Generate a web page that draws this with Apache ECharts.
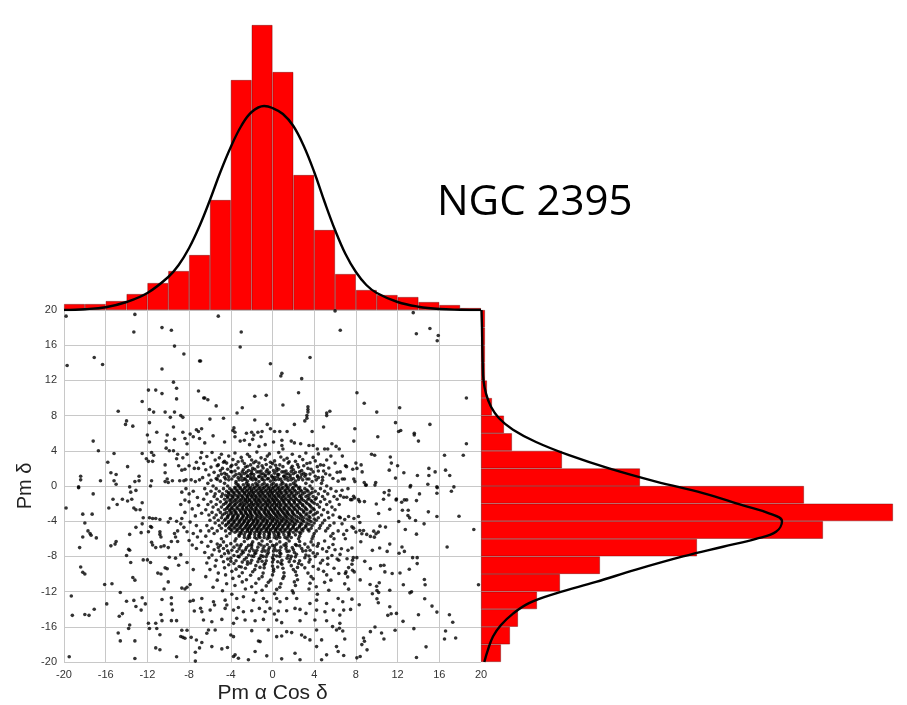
<!DOCTYPE html>
<html><head><meta charset="utf-8">
<script src="https://cdn.jsdelivr.net/npm/echarts@6/dist/echarts.min.js"></script>
<style>html,body{margin:0;padding:0;background:#fff}#c{width:907px;height:705px}</style>
</head><body><div id="c"></div>
<script>
// ---- tick labels ----
const tickValues = [-20,-16,-12,-8,-4,0,4,8,12,16,20];
// ---- histogram bins (2 units wide) ----
const binStartsX = [-20,-18,-16,-14,-12,-10,-8,-6,-4,-2,0,2,4,6,8,10,12,14,16,18];
const topCounts = [6,6,9,16,27,39,55,110,230,285,238,135,80,36,20,15,13,8,5,2];
const binStartsY = [-20,-18,-16,-14,-12,-10,-8,-6,-4,-2,0,2,4,6,8,10,12,14,16,18];
const rightCounts = [20,29,37,56,79,119,216,342,412,323,159,81,31,23,11,6,4,4,4,4];
// ---- fitted curves ----
const topCurveX = [-20,-18,-16,-14,-12,-10,-9,-8,-7,-6,-5,-4,-3,-2,-0.8,0,1,2,3,4,5,6,7,8,9,10,12,14,16,18,20];
const topCurveY = [0,0.8,2.8,8,17,33,45,62,84,110,138,163,184,198,204,202,196,184,164,138,108,80,56,38,25,17,8,3.3,1,0.3,0];
const rightCurveY = [20,18,16,14,12,10.5,9,7.7,6.4,5,3.5,2,0.5,-0.8,-2.2,-3.1,-4,-5.2,-6,-6.9,-8,-9.5,-10.9,-12.2,-13.3,-14.5,-15.8,-17.1,-18.6,-20];
const rightCurveV = [0.5,1.0,1.3,1.7,2.5,5,10,18,32,55,88,128,175,222,262,288,301,295,275,242,202,155,115,75,48,32,20,12,7,3.3];
// ---- scatter points ----
const ptsUL = [[-19.8,19.3],[-13.2,19.5],[-13.3,17.5],[-10.6,18.0],[-9.7,17.7],[-9.4,15.9],[-8.5,15.0],[-7.0,14.2],[-17.1,14.6],[-16.3,13.8],[-19.7,13.7],[-10.6,13.3],[-9.5,11.8],[-9.2,11.1],[-11.9,10.9],[-11.2,10.9],[-10.6,10.5],[-9.2,9.9],[-7.1,10.8],[-6.6,10.0],[-12.5,9.6],[-14.8,8.5],[-11.8,8.7],[-11.4,8.4],[-10.3,8.4],[-9.4,8.4],[-8.8,8.0],[-9.8,7.8],[-8.6,7.8],[-14.0,7.4],[-14.1,7.0],[-13.4,6.8],[-11.8,7.2],[-12.0,5.8],[-11.1,6.1],[-10.1,5.8],[-9.5,6.7],[-8.6,6.1],[-7.9,5.9],[-7.3,6.4],[-7.1,6.2],[-11.8,5.0],[-10.2,5.1],[-9.4,5.3],[-8.4,5.4],[-8.2,4.8],[-7.6,5.6],[-7.0,5.4],[-17.2,5.1],[-16.7,4.0],[-15.2,3.7],[-12.5,3.7],[-11.6,3.8],[-11.4,3.5],[-10.2,4.3],[-9.9,4.0],[-9.5,4.0],[-9.1,3.6],[-8.2,3.6],[-8.6,3.2],[-6.8,3.8],[-6.9,3.2],[-12.1,3.1],[-11.9,2.8],[-11.5,2.8],[-15.8,2.7],[-13.9,2.2],[-15.5,1.5],[-15.0,1.3],[-10.3,2.4],[-9.2,3.1],[-9.0,2.3],[-8.7,1.8],[-8.0,2.3],[-8.4,1.9],[-7.5,2.0],[-7.1,2.0],[-7.3,2.7],[-10.3,1.5],[-18.4,1.1],[-18.4,0.7],[-16.5,0.6],[-15.2,0.6],[-15.0,0.2],[-12.8,1.1],[-13.2,0.5],[-12.8,0.6],[-13.7,-0.1],[-11.6,0.6],[-11.7,0.0],[-10.1,0.8],[-10.0,0.4],[-10.3,0.5],[-9.6,0.6],[-8.9,0.6],[-8.5,0.6],[-8.3,0.7],[-7.8,0.7],[-7.4,0.5],[-7.0,0.7],[-18.6,-0.2]];
const ptsUM = [[-5.2,19.3],[-3.0,17.5],[-3.1,15.8],[-6.9,14.2],[-0.2,13.9],[3.6,14.6],[0.9,12.8],[0.8,12.5],[2.8,12.2],[-6.5,10.0],[-6.2,9.8],[-5.4,9.1],[-1.7,10.2],[-0.6,10.3],[2.5,10.6],[1.0,9.2],[-2.9,8.9],[-3.4,8.3],[3.4,9.0],[3.4,8.7],[3.4,8.4],[3.3,8.0],[3.3,7.7],[3.1,7.4],[5.2,8.3],[5.2,8.0],[5.5,8.5],[-6.0,7.6],[-4.7,7.7],[-1.7,7.5],[-0.5,7.0],[-3.7,6.6],[-3.8,6.3],[-3.6,6.1],[-6.8,6.5],[-5.7,5.7],[-3.6,5.6],[-2.5,6.0],[-2.0,6.1],[-1.8,5.8],[-1.4,6.1],[-1.0,6.2],[-1.1,5.6],[-0.2,6.5],[0.2,6.2],[0.7,6.2],[1.4,6.2],[2.1,7.0],[3.8,6.2],[4.9,6.7],[-6.5,4.9],[-4.6,5.0],[-3.1,5.1],[-2.7,5.2],[-2.2,4.7],[-1.9,5.3],[-1.3,4.5],[-0.7,4.7],[0.1,5.0],[0.9,5.2],[0.9,4.6],[1.0,4.2],[1.8,5.1],[2.1,4.9],[2.7,4.8],[3.5,4.6],[3.9,4.6],[4.3,4.2],[5.0,4.2],[5.3,4.2],[5.7,4.8],[6.1,4.5],[6.0,19.9]];
const ptsUR = [[6.5,17.7],[13.5,19.7],[13.8,17.3],[15.1,17.9],[15.9,17.1],[15.8,16.5],[8.1,10.6],[8.8,9.4],[10.0,8.4],[12.2,8.9],[18.6,10.0],[11.8,7.2],[12.1,6.2],[12.3,6.3],[13.6,6.0],[13.6,5.8],[14.0,5.1],[15.1,7.0],[18.6,4.8],[7.9,6.5],[7.8,5.1],[10.1,5.6],[6.4,4.2],[6.7,3.4],[9.5,3.6],[9.8,3.5],[11.3,3.3],[11.4,2.6],[12.0,2.3],[11.2,1.8],[12.6,1.5],[11.8,0.9],[13.2,-0.1],[13.9,1.2],[15.0,2.0],[15.0,1.2],[15.6,1.6],[14.9,0.2],[15.8,-0.2],[16.5,3.5],[18.3,3.5],[16.6,1.8],[17.0,1.2],[17.4,-0.1],[8.0,2.6],[8.5,2.4],[8.1,2.0],[8.6,1.6],[7.7,1.9],[7.0,2.3],[7.1,2.2],[6.5,1.6],[6.7,0.8],[6.9,0.8],[7.8,0.8],[7.9,0.5],[8.8,0.4],[9.0,0.1],[9.9,0.4]];
const ptsLL = [[-18.6,-0.1],[-17.2,-0.9],[-19.8,-2.5],[-18.2,-3.2],[-17.3,-3.2],[-15.7,-2.5],[-15.3,-1.5],[-14.9,-2.1],[-14.4,-1.5],[-13.9,-1.7],[-13.5,-1.5],[-13.1,-0.5],[-13.6,-0.7],[-13.3,-2.5],[-13.1,-2.7],[-12.7,-2.7],[-12.5,-1.9],[-12.4,-3.6],[-18.0,-4.2],[-17.7,-5.1],[-17.5,-5.4],[-17.4,-5.6],[-18.2,-5.8],[-16.9,-5.9],[-18.5,-7.0],[-15.5,-6.8],[-15.1,-6.6],[-15.0,-6.3],[-13.8,-7.2],[-13.7,-7.3],[-13.7,-5.5],[-13.1,-4.7],[-12.6,-5.3],[-12.5,-4.3],[-11.8,-3.6],[-11.5,-3.7],[-11.2,-3.7],[-10.8,-3.8],[-11.7,-4.6],[-11.6,-4.7],[-11.9,-5.2],[-10.8,-5.2],[-10.7,-5.8],[-10.8,-5.5],[-11.6,-6.4],[-11.5,-6.7],[-11.2,-7.0],[-10.7,-6.9],[-10.4,-6.8],[-10.0,-7.0],[-9.7,-6.3],[-9.3,-5.8],[-9.1,-6.3],[-9.4,-5.4],[-9.1,-5.1],[-9.8,-3.7],[-10.0,-4.1],[-9.2,-4.0],[-8.7,-0.7],[-8.3,-0.3],[-8.0,-0.9],[-7.6,-0.6],[-7.2,-1.3],[-8.4,-1.6],[-8.0,-1.8],[-8.8,-2.1],[-7.7,-2.6],[-7.1,-2.2],[-8.4,-3.0],[-7.4,-3.4],[-6.8,-3.1],[-8.7,-3.7],[-7.9,-4.1],[-7.3,-4.5],[-6.9,-5.1],[-7.6,-5.4],[-7.2,-5.8],[-8.0,-6.2],[-6.8,-6.4],[-7.7,-6.7],[-7.3,-7.1],[-8.5,-4.7],[-8.2,-5.2],[-8.8,-4.3],[-14.0,-7.9],[-13.6,-8.7],[-12.4,-8.4],[-12.0,-8.4],[-11.7,-8.7],[-9.9,-8.1],[-9.3,-8.2],[-8.8,-7.8],[-9.0,-9.0],[-8.2,-8.7],[-18.4,-9.2],[-18.2,-9.8],[-18.0,-10.0],[-13.4,-10.4],[-13.2,-10.7],[-16.1,-11.2],[-15.4,-11.1],[-11.0,-9.9],[-10.7,-10.0],[-10.3,-9.3],[-10.1,-9.4],[-10.0,-10.9],[-10.4,-11.7],[-8.7,-11.6],[-8.4,-11.7],[-8.2,-11.5],[-7.9,-11.2],[-7.6,-9.5],[-19.3,-12.5],[-15.9,-13.4],[-14.6,-12.1],[-14.0,-13.1],[-13.3,-13.0],[-13.1,-13.7],[-12.6,-14.1],[-12.5,-12.7],[-12.2,-13.4],[-10.6,-12.9],[-9.7,-12.7],[-9.7,-13.4],[-9.6,-14.1],[-10.7,-14.6],[-11.2,-15.6],[-10.6,-15.3],[-9.7,-15.3],[-9.2,-15.3],[-7.9,-13.1],[-7.6,-13.0],[-7.5,-14.2],[-6.9,-13.9],[-19.2,-14.7],[-18.0,-14.6],[-17.6,-14.7],[-17.1,-14.0],[-14.7,-14.8],[-14.4,-14.5],[-13.7,-15.8],[-13.8,-16.2],[-14.8,-16.7],[-14.6,-17.6],[-13.2,-17.6],[-11.9,-15.6],[-11.8,-16.2],[-11.1,-16.2],[-10.8,-16.9],[-8.7,-16.4],[-8.2,-16.4],[-8.8,-17.1],[-8.6,-17.2],[-8.4,-17.3],[-7.8,-17.2],[-7.3,-17.5],[-11.2,-18.4],[-10.8,-18.6],[-9.2,-19.4],[-7.4,-19.9],[-7.4,-18.9],[-7.0,-18.4],[-13.2,-19.6],[-19.5,-19.4]];
const ptsLM = [[-6.78,-12.78],[-5.66,-13.16],[-5.56,-13.53],[-4.54,-12.97],[-4.38,-13.53],[-3.43,-12.78],[-2.79,-12.59],[-1.83,-12.97],[-0.87,-12.78],[-0.55,-13.16],[0.4,-12.78],[0.72,-13.16],[1.36,-12.78],[2.32,-12.78],[3.59,-13.35],[4.23,-12.97],[5.19,-13.35],[6.3,-12.78],[-6.78,-14.29],[-5.98,-14.1],[-4.54,-13.91],[-3.74,-14.1],[-3.27,-13.8],[-2.79,-14.29],[-1.99,-14.18],[-1.26,-13.91],[-0.71,-14.29],[-0.24,-13.91],[0.18,-14.55],[0.56,-14.21],[1.36,-14.18],[2.16,-13.91],[2.64,-14.02],[3.21,-14.48],[4.23,-14.1],[5.03,-14.29],[5.83,-14.1],[6.46,-14.67],[-6.62,-15.23],[-5.82,-15.42],[-4.86,-15.16],[-3.74,-15.61],[-3.43,-15.04],[-2.63,-15.23],[-1.67,-15.31],[-0.87,-15.16],[0.4,-15.23],[0.88,-15.53],[2.64,-15.31],[4.07,-15.23],[5.19,-15.31],[6.46,-15.61],[-6.3,-16.74],[-5.5,-16.36],[-6.14,-16.36],[-4.0,-16.93],[-3.74,-17.12],[-1.99,-16.44],[-1.35,-17.61],[-1.19,-17.68],[-0.4,-16.36],[0.4,-17.12],[0.88,-17.04],[1.36,-16.55],[1.84,-16.66],[2.79,-16.93],[3.11,-17.19],[3.59,-17.49],[4.23,-16.36],[4.71,-17.49],[5.76,-15.98],[6.14,-16.36],[-6.78,-17.79],[-5.82,-18.25],[-4.86,-18.51],[-4.32,-18.36],[-3.74,-19.38],[-3.59,-19.19],[-3.27,-19.57],[-2.31,-19.75],[-1.67,-18.81],[-0.55,-19.3],[0.88,-19.64],[2.16,-19.0],[2.64,-19.75],[4.23,-18.25],[4.71,-19.75],[5.19,-19.19],[6.14,-18.25],[6.3,-18.81]];
const ptsLR = [[7.24,-0.3],[6.67,-0.49],[6.51,-1.09],[6.83,-1.28],[7.12,-1.28],[7.62,-1.55],[7.78,-1.17],[7.87,-1.36],[7.49,-1.55],[8.25,-1.55],[8.35,-1.77],[8.82,-1.77],[8.92,0.1],[9.83,0.1],[11.19,-0.53],[10.72,-0.75],[10.65,-1.51],[11.16,-1.02],[9.96,-2.04],[11.86,-1.58],[11.89,-1.47],[12.65,-1.58],[12.87,-1.58],[12.39,-1.85],[13.25,0.05],[13.81,-1.66],[14.1,-0.9],[15.77,-0.08],[15.77,-0.83],[17.16,-0.6],[11.25,-2.64],[10.18,-3.13],[12.46,-2.75],[13.02,-2.75],[12.99,-3.36],[13.15,-3.62],[14.95,-2.94],[15.77,-3.47],[17.89,-3.43],[19.31,-4.94],[12.11,-4.03],[13.72,-3.92],[14.54,-4.3],[12.74,-4.94],[13.81,-5.47],[10.84,-4.67],[10.31,-4.56],[9.71,-5.13],[10.15,-5.24],[9.93,-5.43],[9.77,-5.81],[9.04,-5.5],[9.39,-5.73],[8.73,-5.05],[8.38,-5.05],[8.57,-5.43],[8.0,-5.24],[7.78,-4.79],[7.62,-4.64],[7.12,-5.05],[6.83,-5.5],[6.99,-5.99],[6.67,-4.3],[6.42,-3.54],[6.93,-3.81],[7.3,-3.47],[7.81,-3.69],[8.25,-3.47],[8.38,-4.15],[8.47,-6.33],[9.58,-7.31],[10.28,-7.05],[11.0,-7.43],[11.25,-6.6],[12.14,-7.65],[12.42,-6.94],[12.65,-7.43],[16.75,-6.94],[7.62,-7.05],[7.24,-7.31],[6.61,-7.13],[6.48,-7.77],[7.15,-8.26],[7.75,-8.14],[7.68,-8.44],[8.09,-8.14],[8.85,-8.56],[9.39,-9.39],[10.37,-9.05],[10.69,-9.01],[10.78,-9.76],[11.48,-9.95],[12.23,-9.88],[13.12,-9.46],[13.44,-8.14],[13.88,-8.14],[13.88,-8.82],[14.57,-10.63],[14.64,-11.23],[12.55,-11.23],[11.25,-11.84],[10.24,-11.0],[9.99,-11.39],[9.36,-11.2],[9.58,-12.25],[10.02,-11.88],[10.18,-12.1],[8.41,-10.67],[7.3,-11.72],[6.93,-11.12],[7.21,-10.33],[7.05,-9.76],[6.99,-9.95],[7.3,-9.27],[7.84,-9.76],[7.68,-9.58],[7.62,-8.9],[6.36,-8.44],[6.36,-9.95],[13.18,-12.14],[13.34,-12.03],[19.76,-11.23],[14.6,-12.82],[15.3,-13.65],[10.02,-12.82],[10.15,-13.27],[8.32,-13.5],[11.25,-13.72],[11.38,-14.51],[11.06,-14.7],[11.89,-14.48],[12.52,-15.38],[14.0,-14.63],[15.77,-14.33],[16.97,-14.63],[17.29,-15.49],[7.62,-12.86],[6.74,-13.16],[6.83,-14.1],[7.49,-14.02],[9.83,-16.02],[9.39,-16.55],[10.46,-16.7],[10.69,-17.38],[8.73,-17.27],[8.82,-17.64],[8.57,-18.02],[9.07,-18.62],[6.93,-17.38],[6.74,-16.47],[6.42,-16.17],[11.76,-16.4],[13.56,-16.21],[16.6,-16.47],[16.5,-17.38],[17.57,-17.27],[14.73,-18.28],[6.83,-19.26],[8.09,-19.53],[8.41,-19.38],[13.81,-19.49]];
const haloUpper = [[-5.8,3.8],[-4.9,3.6],[-3.6,3.75],[-2.4,3.6],[-1.5,3.85],[-0.3,3.65],[0.6,3.8],[1.9,3.6],[3.2,3.75],[4.4,3.65],[-6.3,3.35],[-5.1,3.2],[-4.2,3.4],[-3.0,3.25],[-2.2,3.35],[-1.1,3.2],[-0.5,3.4],[0.8,3.3],[1.4,3.15],[2.6,3.35],[3.9,3.25],[5.6,3.4],[-5.5,2.95],[-4.6,2.8],[-3.8,3.0],[-2.9,2.85],[-2.0,2.95],[-1.6,2.8],[-0.7,3.0],[0.2,2.85],[1.1,2.95],[2.2,2.8],[2.9,3.0],[4.1,2.85],[5.2,2.95],[-6.6,2.55],[-5.2,2.4],[-4.4,2.6],[-3.5,2.45],[-2.7,2.55],[-2.1,2.4],[-1.3,2.6],[-0.6,2.45],[0.0,2.55],[0.7,2.4],[1.5,2.6],[2.4,2.45],[3.3,2.55],[4.6,2.4],[6.0,2.6],[-5.9,2.15],[-4.8,2.0],[-4.0,2.2],[-3.3,2.05],[-2.6,2.15],[-1.9,2.0],[-1.4,2.2],[-0.9,2.05],[-0.2,2.15],[0.4,2.0],[1.0,2.2],[1.8,2.05],[2.5,2.15],[3.4,2.0],[4.3,2.2],[5.4,2.05],[-6.4,1.85],[-5.0,1.75],[-4.3,1.9],[-3.6,1.7],[-2.8,1.85],[-2.3,1.75],[-1.7,1.9],[-1.1,1.7],[-0.5,1.85],[0.1,1.75],[0.6,1.9],[1.3,1.7],[2.0,1.85],[2.8,1.75],[3.7,1.9],[4.9,1.7],[-5.6,1.55],[-4.6,1.45],[-3.9,1.6],[-3.2,1.4],[-2.5,1.55],[-2.0,1.45],[-1.5,1.6],[-0.9,1.4],[-0.3,1.55],[0.2,1.45],[0.9,1.6],[1.5,1.4],[2.2,1.55],[3.0,1.45],[3.9,1.6],[5.1,1.4],[6.2,1.55],[-6.1,1.25],[-5.2,1.15],[-4.4,1.3],[-3.7,1.1],[-3.0,1.25],[-2.4,1.15],[-1.8,1.3],[-1.3,1.1],[-0.7,1.25],[-0.1,1.15],[0.5,1.3],[1.1,1.1],[1.7,1.25],[2.4,1.15],[3.2,1.3],[4.1,1.1],[5.5,1.25],[-6.7,0.95],[-5.4,0.85],[-4.6,1.0],[-3.9,0.8],[-3.3,0.95],[-2.7,0.85],[-2.1,1.0],[-1.6,0.8],[-1.0,0.95],[-0.4,0.85],[0.2,1.0],[0.8,0.8],[1.4,0.95],[2.0,0.85],[2.7,1.0],[3.5,0.8],[4.4,0.95],[5.8,0.85],[-5.9,0.65],[-5.0,0.55],[-4.2,0.7],[-3.5,0.5],[-2.9,0.65],[-2.4,0.55],[-1.9,0.7],[-1.3,0.5],[-0.8,0.65],[-0.2,0.55],[0.3,0.7],[0.9,0.5],[1.5,0.65],[2.2,0.55],[2.9,0.7],[3.8,0.5],[4.8,0.65],[6.3,0.55]];
const haloUpper2 = [[-4.7,2.7],[-3.3,2.75],[-1.8,2.65],[-0.2,2.7],[1.6,2.75],[3.6,2.65],[-5.3,2.3],[-3.9,2.35],[-2.4,2.25],[-1.0,2.3],[0.3,2.35],[1.9,2.25],[3.0,2.3],[4.9,2.35],[-4.0,1.65],[-2.9,1.6],[-2.0,1.7],[-1.3,1.6],[-0.6,1.65],[0.4,1.7],[1.1,1.6],[1.8,1.65],[2.6,1.6],[4.4,1.7],[-4.9,1.35],[-3.5,1.3],[-2.7,1.4],[-2.1,1.3],[-1.1,1.35],[-0.4,1.4],[0.6,1.3],[1.3,1.35],[2.0,1.4],[2.8,1.3],[3.6,1.35],[-4.2,1.05],[-3.0,1.0],[-2.4,1.1],[-1.8,1.0],[-1.3,1.05],[-0.7,1.1],[0.0,1.0],[0.5,1.05],[1.1,1.1],[1.7,1.0],[2.4,1.05],[3.1,1.1],[4.8,1.0],[-5.3,0.75],[-4.5,0.8],[-3.2,0.7],[-2.6,0.75],[-2.1,0.8],[-1.6,0.7],[-1.0,0.75],[-0.5,0.8],[0.1,0.7],[0.6,0.75],[1.2,0.8],[1.8,0.7],[2.5,0.75],[3.3,0.8],[4.2,0.7]];
const coreRowY = [0.3,0.0,-0.3,-0.6,-0.9,-1.2,-1.5,-1.8,-2.1,-2.4,-2.7,-3.0,-3.3,-3.6,-3.9,-4.2,-4.5,-4.8,-5.1,-5.4,-5.7,-6.0];
const coreRowX = [
[-6.2,-4.6,-3.5,-2.5,-1.6,-0.8,0.1,1.0,2.0,3.2,4.7],
[-5.7,-4.3,-3.3,-2.4,-1.5,-0.6,0.3,1.3,2.3,3.6,5.2],
[-6.5,-5.4,-4.7,-4.1,-3.6,-3.1,-2.7,-2.2,-1.8,-1.3,-0.9,-0.4,0.0,0.5,0.9,1.4,1.9,2.5,3.1,3.8,4.6,5.6],
[-5.9,-5.1,-4.4,-3.9,-3.4,-2.9,-2.5,-2.0,-1.6,-1.1,-0.7,-0.2,0.2,0.7,1.2,1.7,2.2,2.8,3.4,4.1,5.0,6.1],
[-6.3,-5.5,-4.8,-4.2,-3.7,-3.2,-2.7,-2.3,-1.9,-1.4,-1.0,-0.5,-0.1,0.4,0.8,1.3,1.8,2.3,2.9,3.6,4.4,5.3],
[-5.6,-4.9,-4.3,-3.8,-3.3,-2.9,-2.4,-2.0,-1.6,-1.2,-0.7,-0.3,0.2,0.6,1.0,1.5,2.0,2.6,3.2,3.9,4.8,5.9],
[-6.6,-5.3,-4.6,-4.0,-3.5,-3.0,-2.6,-2.2,-1.7,-1.3,-0.9,-0.4,0.0,0.4,0.9,1.3,1.8,2.3,2.8,3.4,4.1,5.0,6.2],
[-5.9,-5.0,-4.4,-3.8,-3.3,-2.8,-2.4,-2.0,-1.5,-1.1,-0.6,-0.2,0.2,0.7,1.1,1.6,2.1,2.6,3.2,3.8,4.6,5.5],
[-6.2,-5.4,-4.7,-4.1,-3.6,-3.1,-2.7,-2.2,-1.8,-1.4,-0.9,-0.5,0.0,0.4,0.8,1.3,1.8,2.4,2.9,3.5,4.3,5.2,6.4],
[-5.7,-4.9,-4.3,-3.9,-3.4,-2.9,-2.5,-2.1,-1.6,-1.2,-0.7,-0.3,0.2,0.6,1.1,1.5,2.0,2.5,3.1,3.7,4.5,5.7],
[-6.4,-5.2,-4.6,-4.1,-3.7,-3.2,-2.8,-2.3,-1.9,-1.5,-1.0,-0.6,-0.1,0.3,0.8,1.2,1.7,2.2,2.8,3.3,4.0,4.9,6.0],
[-5.8,-5.0,-4.4,-3.9,-3.5,-3.0,-2.6,-2.1,-1.7,-1.3,-0.8,-0.4,0.1,0.5,1.0,1.4,1.9,2.4,3.0,3.6,4.3,5.3],
[-6.1,-5.4,-4.8,-4.2,-3.7,-3.3,-2.8,-2.4,-2.0,-1.5,-1.1,-0.6,-0.2,0.3,0.7,1.2,1.6,2.1,2.7,3.2,3.9,4.7,5.8],
[-5.6,-4.9,-4.3,-3.8,-3.4,-2.9,-2.5,-2.1,-1.6,-1.2,-0.8,-0.3,0.1,0.5,1.0,1.4,1.9,2.5,3.0,3.6,4.4,5.4,6.5],
[-6.0,-5.2,-4.6,-4.0,-3.6,-3.1,-2.7,-2.2,-1.8,-1.4,-0.9,-0.5,0.0,0.4,0.9,1.3,1.8,2.3,2.9,3.5,4.2,5.0],
[-5.5,-4.8,-4.2,-3.7,-3.2,-2.8,-2.4,-1.9,-1.5,-1.1,-0.6,-0.2,0.3,0.7,1.2,1.6,2.1,2.7,3.3,4.0,4.8,5.9],
[-6.3,-5.1,-4.5,-3.9,-3.4,-3.0,-2.5,-2.1,-1.7,-1.2,-0.8,-0.3,0.1,0.6,1.0,1.5,2.0,2.6,3.2,3.8,4.6,5.5],
[-5.8,-4.9,-4.2,-3.7,-3.2,-2.7,-2.3,-1.8,-1.4,-0.9,-0.5,0.0,0.4,0.9,1.4,1.9,2.4,3.0,3.7,4.5,5.3],
[-6.1,-5.3,-4.5,-3.9,-3.4,-2.9,-2.4,-2.0,-1.5,-1.1,-0.6,-0.2,0.3,0.8,1.2,1.7,2.3,2.9,3.5,4.2,5.1,6.3],
[-5.6,-4.1,-3.0,-2.1,-1.2,-0.3,0.6,1.6,2.7,4.0,5.8],
[-6.4,-4.4,-3.2,-2.3,-1.3,-0.4,0.5,1.5,2.6,3.9,5.6],
[-4.9,-3.5,-2.4,-1.5,-0.5,0.4,1.4,2.5,3.8,5.9]
];
const coreMidY = [0.15,-0.15,-0.45,-0.75,-1.05,-1.35,-1.65,-1.95,-2.25,-2.55,-2.85,-3.15,-3.45,-3.75,-4.05,-4.35,-4.65,-4.95,-5.25,-5.55,-5.85];
const coreMidX = [
[-3.3,-2.8,-2.3,-1.9,-1.4,-1.0,-0.5,-0.1,0.4,0.8,1.3,1.7,2.2],
[-3.6,-3.1,-2.6,-2.1,-1.7,-1.2,-0.8,-0.3,0.1,0.6,1.0,1.5,2.0,2.6],
[-3.9,-3.4,-2.9,-2.4,-2.0,-1.5,-1.1,-0.6,-0.2,0.3,0.7,1.2,1.6,2.1,2.7,3.3],
[-4.2,-3.7,-3.2,-2.7,-2.2,-1.8,-1.3,-0.9,-0.4,0.0,0.5,0.9,1.4,1.9,2.5,3.1,3.8],
[-4.5,-4.0,-3.5,-3.0,-2.5,-2.1,-1.7,-1.2,-0.8,-0.3,0.1,0.6,1.1,1.6,2.1,2.7,3.4],
[-4.3,-3.8,-3.3,-2.8,-2.4,-1.9,-1.5,-1.0,-0.6,-0.1,0.3,0.8,1.2,1.7,2.2,2.8,3.5,4.2],
[-4.1,-3.6,-3.1,-2.6,-2.2,-1.7,-1.3,-0.8,-0.4,0.1,0.5,1.0,1.5,2.0,2.5,3.0,3.7],
[-4.5,-4.0,-3.5,-3.0,-2.5,-2.0,-1.6,-1.2,-0.7,-0.3,0.2,0.6,1.1,1.6,2.1,2.7,3.3,4.0],
[-4.2,-3.7,-3.2,-2.8,-2.3,-1.9,-1.4,-1.0,-0.5,-0.1,0.4,0.8,1.3,1.8,2.3,2.9,3.6],
[-4.4,-3.9,-3.4,-2.9,-2.5,-2.0,-1.6,-1.1,-0.7,-0.2,0.2,0.7,1.1,1.6,2.1,2.6,3.2,3.9],
[-4.1,-3.6,-3.1,-2.6,-2.2,-1.7,-1.3,-0.8,-0.4,0.0,0.5,0.9,1.4,1.9,2.4,3.0,3.7],
[-4.6,-4.0,-3.5,-3.0,-2.5,-2.1,-1.6,-1.2,-0.7,-0.3,0.2,0.6,1.1,1.5,2.0,2.6,3.3,4.1],
[-4.3,-3.8,-3.3,-2.8,-2.3,-1.9,-1.4,-1.0,-0.5,-0.1,0.4,0.8,1.3,1.8,2.3,2.8,3.5],
[-4.5,-3.9,-3.4,-3.0,-2.5,-2.0,-1.6,-1.1,-0.7,-0.2,0.2,0.7,1.1,1.6,2.1,2.7,3.3,4.0],
[-4.2,-3.7,-3.2,-2.7,-2.3,-1.8,-1.4,-0.9,-0.5,0.0,0.5,0.9,1.4,1.9,2.4,3.0,3.7],
[-4.4,-3.9,-3.4,-2.9,-2.4,-2.0,-1.5,-1.1,-0.6,-0.2,0.3,0.7,1.2,1.7,2.2,2.8,3.5],
[-4.1,-3.6,-3.1,-2.6,-2.2,-1.7,-1.3,-0.8,-0.4,0.1,0.5,1.0,1.5,2.0,2.6,3.2],
[-4.0,-3.4,-2.9,-2.4,-2.0,-1.5,-1.1,-0.6,-0.2,0.3,0.7,1.2,1.7,2.2,2.8,3.4],
[-3.6,-3.1,-2.6,-2.2,-1.7,-1.3,-0.8,-0.4,0.1,0.5,1.0,1.5,2.0,2.6],
[-3.2,-2.7,-2.2,-1.7,-1.3,-0.8,-0.3,0.2,0.6,1.1,1.6,2.2],
[-2.7,-2.2,-1.7,-1.2,-0.8,-0.3,0.2,0.7,1.2,1.8]
];
const haloLower = [[-6.2,-6.85],[-5.2,-7.0],[-4.4,-6.8],[-3.7,-6.95],[-3.1,-6.85],[-2.5,-7.0],[-2.0,-6.8],[-1.4,-6.95],[-0.8,-6.85],[-0.3,-7.0],[0.2,-6.8],[0.8,-6.95],[1.3,-6.85],[1.9,-7.0],[2.6,-6.8],[3.4,-6.95],[4.3,-6.85],[5.4,-7.0],[-5.6,-7.25],[-4.7,-7.1],[-3.9,-7.3],[-3.2,-7.15],[-2.6,-7.25],[-2.0,-7.1],[-1.5,-7.3],[-0.9,-7.15],[-0.4,-7.25],[0.2,-7.1],[0.7,-7.3],[1.3,-7.15],[2.0,-7.25],[2.8,-7.1],[3.6,-7.3],[4.8,-7.15],[6.0,-7.25],[-6.5,-7.55],[-5.1,-7.4],[-4.2,-7.6],[-3.4,-7.45],[-2.8,-7.55],[-2.2,-7.4],[-1.6,-7.6],[-1.0,-7.45],[-0.4,-7.55],[0.1,-7.4],[0.7,-7.6],[1.4,-7.45],[2.1,-7.55],[2.9,-7.4],[3.9,-7.6],[5.2,-7.45],[-5.8,-7.85],[-4.6,-7.7],[-3.7,-7.9],[-3.0,-7.75],[-2.3,-7.85],[-1.7,-7.7],[-1.1,-7.9],[-0.5,-7.75],[0.1,-7.85],[0.8,-7.7],[1.5,-7.9],[2.3,-7.75],[3.2,-7.85],[4.3,-7.7],[5.7,-7.9],[-6.1,-8.15],[-4.9,-8.0],[-4.0,-8.2],[-3.2,-8.05],[-2.5,-8.15],[-1.8,-8.0],[-1.2,-8.2],[-0.6,-8.05],[0.0,-8.15],[0.7,-8.0],[1.4,-8.2],[2.2,-8.05],[3.1,-8.15],[4.1,-8.0],[5.3,-8.2],[-5.4,-8.45],[-4.3,-8.3],[-3.5,-8.5],[-2.7,-8.35],[-2.0,-8.45],[-1.3,-8.3],[-0.6,-8.5],[0.1,-8.35],[0.9,-8.45],[1.7,-8.3],[2.6,-8.5],[3.6,-8.35],[4.8,-8.45],[6.2,-8.3],[-6.3,-8.75],[-4.7,-8.6],[-3.7,-8.8],[-2.9,-8.65],[-2.1,-8.75],[-1.4,-8.6],[-0.7,-8.8],[0.0,-8.65],[0.8,-8.75],[1.6,-8.6],[2.5,-8.8],[3.5,-8.65],[4.6,-8.75],[-5.5,-9.1],[-4.2,-8.95],[-3.2,-9.15],[-2.4,-8.9],[-1.6,-9.05],[-0.8,-8.95],[0.0,-9.1],[0.9,-8.9],[1.8,-9.05],[2.8,-8.95],[3.9,-9.15],[5.3,-8.9],[-6.0,-9.5],[-4.6,-9.3],[-3.5,-9.45],[-2.6,-9.35],[-1.7,-9.5],[-0.8,-9.3],[0.1,-9.45],[1.0,-9.35],[2.0,-9.5],[3.1,-9.3],[4.4,-9.45],[5.9,-9.35],[-5.2,-9.9],[-3.9,-9.7],[-2.9,-9.85],[-1.9,-9.75],[-0.9,-9.9],[0.1,-9.7],[1.1,-9.85],[2.2,-9.75],[3.4,-9.9],[4.9,-9.7],[-6.4,-10.3],[-4.5,-10.1],[-3.2,-10.25],[-2.1,-10.15],[-1.0,-10.3],[0.0,-10.1],[1.1,-10.25],[2.3,-10.15],[3.7,-10.3],[5.2,-10.1],[-5.3,-10.7],[-3.8,-10.5],[-2.5,-10.65],[-1.3,-10.55],[-0.2,-10.7],[1.0,-10.5],[2.4,-10.65],[3.9,-10.55],[5.6,-10.7],[-4.4,-11.1],[-2.9,-10.9],[-1.6,-11.05],[-0.4,-10.95],[0.8,-11.1],[2.1,-10.9],[3.6,-11.05],[5.0,-10.95],[-5.7,-11.5],[-3.6,-11.3],[-2.0,-11.45],[-0.6,-11.35],[0.7,-11.5],[2.2,-11.3],[4.2,-11.45],[-4.8,-11.9],[-2.6,-11.7],[-1.0,-11.85],[0.4,-11.75],[1.9,-11.9],[3.5,-11.7],[5.4,-11.85],[-3.9,-12.3],[-1.6,-12.1],[0.2,-12.25],[2.0,-12.15],[4.3,-12.3]];
const haloLower2 = [[-5.9,-6.3],[-4.7,-6.35],[-3.6,-6.25],[-2.7,-6.3],[-1.9,-6.35],[-1.0,-6.25],[-0.2,-6.3],[0.7,-6.35],[1.6,-6.25],[2.6,-6.3],[3.7,-6.35],[5.0,-6.25],[-5.3,-6.6],[-4.0,-6.55],[-3.0,-6.65],[-2.0,-6.6],[-1.3,-6.55],[-0.5,-6.65],[0.4,-6.6],[1.3,-6.55],[2.2,-6.65],[3.1,-6.6],[4.4,-6.55],[5.8,-6.65],[-5.0,-6.75],[-3.4,-6.7],[-2.3,-6.75],[-1.1,-6.7],[0.0,-6.75],[1.1,-6.7],[2.3,-6.75],[3.9,-6.7],[-4.3,-7.35],[-2.9,-7.4],[-1.8,-7.35],[-0.7,-7.4],[0.4,-7.35],[1.6,-7.4],[3.2,-7.35],[-3.3,-8.0],[-2.0,-7.95],[-0.9,-8.0],[0.4,-7.95],[1.8,-8.0],[3.5,-7.95],[-4.0,-8.55],[-2.4,-8.6],[-1.0,-8.55],[0.5,-8.6],[2.1,-8.55],[-3.0,-9.2],[-1.2,-9.25],[0.5,-9.2],[2.4,-9.25]];

// ---- build ----
const allPts = [].concat(ptsUL, ptsUM, ptsUR, ptsLL, ptsLM, ptsLR, haloUpper, haloUpper2, haloLower, haloLower2);
coreRowY.forEach((y, i) => coreRowX[i].forEach(x => allPts.push([x, y])));
coreMidY.forEach((y, i) => coreMidX[i].forEach(x => allPts.push([x, y])));
const topBinLabels = binStartsX.map(v => v + '–' + (v + 2));
const rightBinLabels = binStartsY.map(v => v + '–' + (v + 2));
const topCurve = topCurveX.map((x, i) => [x, topCurveY[i]]);
const rightCurve = rightCurveY.map((y, i) => [rightCurveV[i], y]);

const FONT = '"Liberation Sans", Arial, sans-serif';
const chart = echarts.init(document.getElementById('c'), null, {renderer: 'canvas'});
chart.setOption({
  animation: false,
  backgroundColor: '#fff',
  grid: [
    {left: 64, top: 310, width: 417, height: 352},
    {left: 64, top: 10, width: 417, height: 300},
    {left: 481, top: 310, width: 420, height: 352}
  ],
  xAxis: [
    {gridIndex: 0, type: 'value', min: -20, max: 20, interval: 4,
     axisLine: {show: false}, axisTick: {show: false},
     splitLine: {show: true, lineStyle: {color: '#c8c8c8', width: 1}},
     axisLabel: {color: '#333', fontSize: 11, fontFamily: FONT, margin: 7,
       customValues: tickValues},
     name: 'Pm α Cos δ', nameLocation: 'middle', nameGap: 21,
     nameTextStyle: {fontSize: 21, color: '#222', fontFamily: FONT}},
    {gridIndex: 1, type: 'category', data: topBinLabels, show: false},
    {gridIndex: 1, type: 'value', min: -20, max: 20, show: false},
    {gridIndex: 2, type: 'value', min: 0, max: 420, show: false}
  ],
  yAxis: [
    {gridIndex: 0, type: 'value', min: -20, max: 20, interval: 4,
     axisLine: {show: false}, axisTick: {show: false},
     splitLine: {show: true, lineStyle: {color: '#c8c8c8', width: 1}},
     axisLabel: {color: '#333', fontSize: 11, fontFamily: FONT, margin: 7},
     name: 'Pm δ', nameLocation: 'middle', nameGap: 29, nameRotate: 90,
     nameTextStyle: {fontSize: 20, color: '#222', fontFamily: FONT}},
    {gridIndex: 1, type: 'value', min: 0, max: 300, show: false},
    {gridIndex: 2, type: 'category', data: rightBinLabels, show: false},
    {gridIndex: 2, type: 'value', min: -20, max: 20, show: false}
  ],
  series: [
    {type: 'scatter', xAxisIndex: 0, yAxisIndex: 0, data: allPts,
     symbol: 'circle', symbolSize: 3.6, itemStyle: {color: '#000'}, silent: true},
    {type: 'bar', xAxisIndex: 1, yAxisIndex: 1, data: topCounts, barCategoryGap: '0%',
     itemStyle: {color: '#ff0000', borderColor: 'rgba(90,0,0,0.55)', borderWidth: 0.7}},
    {type: 'line', xAxisIndex: 2, yAxisIndex: 1, data: topCurve, smooth: 0.4,
     showSymbol: false, lineStyle: {color: '#000', width: 2.4}, z: 5},
    {type: 'bar', xAxisIndex: 3, yAxisIndex: 2, data: rightCounts, barCategoryGap: '0%',
     itemStyle: {color: '#ff0000', borderColor: 'rgba(90,0,0,0.55)', borderWidth: 0.7}},
    {type: 'line', xAxisIndex: 3, yAxisIndex: 3, data: rightCurve, smooth: 0.4,
     showSymbol: false, lineStyle: {color: '#000', width: 2.4}, z: 5}
  ],
  graphic: [
    {type: 'text', left: 437, top: 182,
     style: {text: 'NGC 2395', font: '42px "Open Sans", "Noto Sans", sans-serif', fill: '#000'}}
  ]
});
</script>
</body></html>
